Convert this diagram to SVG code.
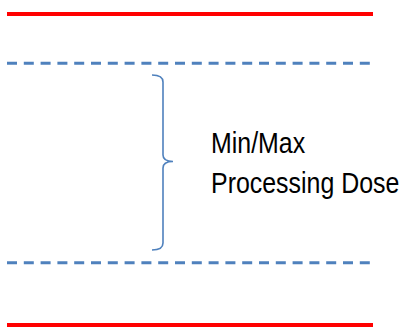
<svg xmlns="http://www.w3.org/2000/svg" width="405" height="327" viewBox="0 0 405 327">
<style>
.red{stroke:#ff0000;stroke-width:4;fill:none}
.dash{stroke:#4f81bd;stroke-width:3;stroke-dasharray:10 6.8;fill:none}
.brace{stroke:#4f81bd;stroke-width:1.6;fill:none}
.lbl{font-family:"Liberation Sans",Arial,sans-serif;font-size:29px;fill:#000}
</style>
<rect width="405" height="327" fill="#fff"/>
<g id="limits">
<line class="red" x1="7" y1="14" x2="373" y2="14"/>
<line class="dash" x1="7" y1="63.3" x2="372" y2="63.3"/>
<line class="dash" x1="7" y1="262.7" x2="372" y2="262.7"/>
<line class="red" x1="7" y1="325" x2="373" y2="325"/>
</g>
<g id="brace">
<path class="brace" d="M152,75 Q163,75 163,82 L163,155 Q163,161.5 173,161.5 Q163,161.5 163,168 L163,243 Q163,250 152,250"/>
</g>
<g id="label">
<text class="lbl" transform="translate(211,153) scale(0.86,1)">Min/Max</text>
<text class="lbl" transform="translate(211,193) scale(0.86,1)">Processing Dose</text>
</g>
</svg>
